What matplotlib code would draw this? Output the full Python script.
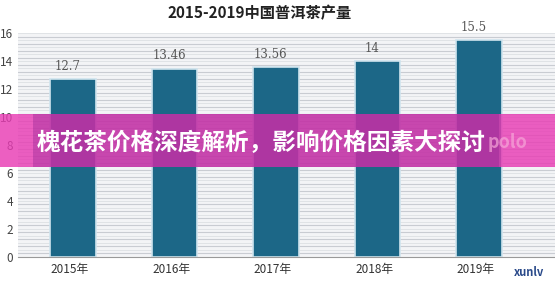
import matplotlib
matplotlib.use("Agg")
import matplotlib.pyplot as plt
import numpy as np
from matplotlib.patches import Rectangle

plt.rcParams['font.family'] = ['Noto Sans CJK SC', 'DejaVu Sans']

categories = ["2015年", "2016年", "2017年", "2018年", "2019年"]
values = [12.7, 13.46, 13.56, 14, 15.5]
value_labels = ["12.7", "13.46", "13.56", "14", "15.5"]
yticks = [0, 2, 4, 6, 8, 10, 12, 14, 16]
title = "2015-2019中国普洱茶产量"
banner = "槐花茶价格深度解析，影响价格因素大探讨"

fig = plt.figure(figsize=(5.55, 2.83), dpi=100)
ax = fig.add_axes([0.033, 0.092, 0.967, 0.791])
x = np.arange(len(categories))
ax.set_facecolor("#f3f4f6")
# dense striped background lines
for yy in np.arange(0.25, 16.01, 0.5):
    ax.axhline(yy, color="#c9ccd2", lw=0.8, zorder=0)
for yy in np.arange(0.5, 16.01, 0.5):
    ax.axhline(yy, color="#dde0e4", lw=0.6, zorder=0)
ax.bar(x, values, width=0.45, color="#1c6787", edgecolor="#cfe4ee", linewidth=1.2, zorder=2)
for xi, v, lab in zip(x, values, value_labels):
    ax.text(xi - 0.05, v + 0.45, lab, ha="center", va="bottom", fontsize=8.5,
            color="#555555", family="DejaVu Serif")
ax.set_xlim(-0.54, 4.75)
ax.set_ylim(0, 16)
ax.set_yticks(yticks)
ax.set_yticklabels([str(t) for t in yticks], fontsize=8.5, color="#444444")
ax.set_xticks(x - 0.03)
ax.set_xticklabels(categories, fontsize=8.5, color="#333333")
ax.tick_params(length=0, pad=4)
for s in ["top", "right", "left"]:
    ax.spines[s].set_visible(False)
ax.spines["bottom"].set_color("#999999")
fig.text(0.468, 0.955, title, ha="center", va="center", fontsize=11, fontweight="bold", color="#222222")

# banner overlay
fig.patches.append(Rectangle((0, 1 - 167/283), 1, 53/283, transform=fig.transFigure,
                             facecolor="#e83cb4", alpha=0.82, zorder=5))
fig.patches.append(Rectangle((0.06, 1 - 167/283), 0.84, 53/283, transform=fig.transFigure,
                             facecolor="#8a1f8f", alpha=0.35, zorder=6))
fig.text(0.471, 1 - 143/283, banner, ha="center", va="center", fontsize=17,
         fontweight="bold", color="white", zorder=10)
fig.text(0.878, 1 - 143/283, "polo", ha="left", va="center", fontsize=13,
         fontweight="bold", color="#f6a6d8", alpha=0.7, zorder=9)
fig.text(0.925, 1 - 273/283, "xunlv", ha="left", va="center", fontsize=8,
         fontweight="bold", color="#2a4a8a", zorder=10)

fig.savefig("out.png", dpi=100)
